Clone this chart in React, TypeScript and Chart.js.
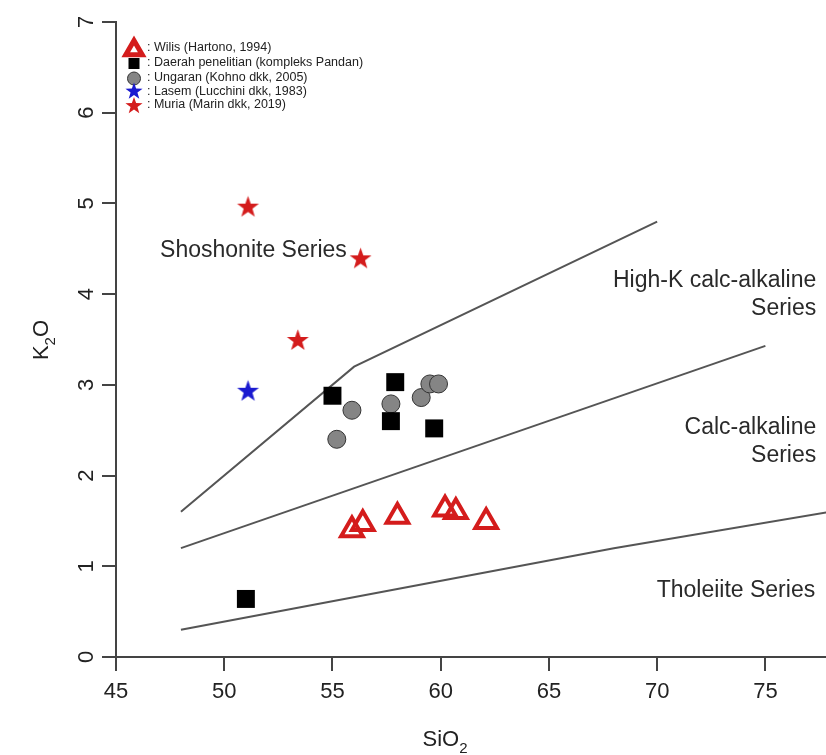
import React, { useEffect, useRef } from 'react';
import { Chart, registerables } from 'chart.js';

Chart.register(...registerables);

// ---- axis ticks ----
const xTickValues = [45, 50, 55, 60, 65, 70, 75];
const yTickValues = [0, 1, 2, 3, 4, 5, 6, 7];
const xMin = 45;
const xMax = 77.8;
const yMin = 0;
const yMax = 7;

// ---- data series (SiO2, K2O) ----
const wilisSiO2 = [55.9, 56.4, 58.0, 60.2, 60.7, 62.1];
const wilisK2O = [1.40, 1.47, 1.55, 1.63, 1.60, 1.49];

const daerahSiO2 = [51.0, 55.0, 57.9, 57.7, 59.7];
const daerahK2O = [0.64, 2.88, 3.03, 2.60, 2.52];

const ungaranSiO2 = [55.2, 55.9, 57.7, 59.1, 59.5, 59.9];
const ungaranK2O = [2.40, 2.72, 2.79, 2.86, 3.01, 3.01];

const lasemSiO2 = [51.1];
const lasemK2O = [2.94];

const muriaSiO2 = [51.1, 56.3, 53.4];
const muriaK2O = [4.97, 4.40, 3.50];

// ---- series boundary lines ----
const tholeiiteLineSiO2 = [48, 68, 78];
const tholeiiteLineK2O = [0.3, 1.2, 1.6];
const calcAlkLineSiO2 = [48, 75];
const calcAlkLineK2O = [1.2, 3.43];
const highKLineSiO2 = [48, 56, 70];
const highKLineK2O = [1.6, 3.2, 4.8];

// ---- legend labels ----
const legendLabels = [
  ': Wilis (Hartono, 1994)',
  ': Daerah penelitian (kompleks Pandan)',
  ': Ungaran (Kohno dkk, 2005)',
  ': Lasem (Lucchini dkk, 1983)',
  ': Muria (Marin dkk, 2019)',
];

// ---- field labels (anchor in data space) ----
const fieldLabels = ['Shoshonite Series', 'High-K calc-alkaline', 'Series', 'Calc-alkaline', 'Series', 'Tholeiite Series'];
const fieldLabelSiO2 = [51.35, 77.35, 77.35, 77.35, 77.35, 77.3];
const fieldLabelK2O = [4.48, 4.15, 3.84, 2.53, 2.22, 0.735];
const fieldLabelAlign = ['center', 'right', 'right', 'right', 'right', 'right'];

const zip = (xs: number[], ys: number[]) => xs.map((x, i) => ({ x, y: ys[i] }));

const RED = '#d41c1c';
const BLUE = '#1a1ad0';
const FONT = '"Liberation Sans", Arial, Helvetica, sans-serif';
const W = 826;
const H = 755;

function starPath(ctx: CanvasRenderingContext2D, cx: number, cy: number, R: number) {
  const r = R * 0.4;
  ctx.beginPath();
  for (let i = 0; i < 10; i++) {
    const rad = (Math.PI / 5) * i - Math.PI / 2;
    const rr = i % 2 === 0 ? R : r;
    const px = cx + Math.cos(rad) * rr;
    const py = cy + Math.sin(rad) * rr;
    if (i === 0) ctx.moveTo(px, py);
    else ctx.lineTo(px, py);
  }
  ctx.closePath();
}

function makeStar(color: string, R: number): HTMLCanvasElement {
  const size = Math.ceil(R * 2 + 4);
  const c = document.createElement('canvas');
  c.width = size;
  c.height = size;
  const ctx = c.getContext('2d')!;
  ctx.fillStyle = color;
  starPath(ctx, size / 2, size / 2 + R * 0.1, R);
  ctx.fill();
  return c;
}

const overlayPlugin = {
  id: 'overlay',
  afterDraw(chart: any) {
    const ctx: CanvasRenderingContext2D = chart.ctx;
    const xs = chart.scales.x;
    const ys = chart.scales.y;
    ctx.save();

    // x tick labels
    ctx.fillStyle = '#222';
    ctx.font = `22px ${FONT}`;
    ctx.textAlign = 'center';
    ctx.textBaseline = 'middle';
    xTickValues.forEach((v) => {
      ctx.fillText(String(v), xs.getPixelForValue(v), 692);
    });

    // y tick labels (rotated, R style)
    yTickValues.forEach((v) => {
      const py = ys.getPixelForValue(v);
      ctx.save();
      ctx.translate(87, py);
      ctx.rotate(-Math.PI / 2);
      ctx.fillText(String(v), 0, 0);
      ctx.restore();
    });

    // x title SiO2
    ctx.textAlign = 'left';
    ctx.textBaseline = 'alphabetic';
    ctx.font = `22px ${FONT}`;
    const cxTitle = xs.getPixelForValue(60.2);
    const wMain = ctx.measureText('SiO').width;
    ctx.font = `15px ${FONT}`;
    const wSub = ctx.measureText('2').width;
    const startX = cxTitle - (wMain + wSub) / 2;
    ctx.font = `22px ${FONT}`;
    ctx.fillText('SiO', startX, 746);
    ctx.font = `15px ${FONT}`;
    ctx.fillText('2', startX + wMain, 753);

    // y title K2O (rotated)
    ctx.save();
    ctx.translate(48, 340);
    ctx.rotate(-Math.PI / 2);
    ctx.font = `22px ${FONT}`;
    const wK = ctx.measureText('K').width;
    const wO = ctx.measureText('O').width;
    ctx.font = `15px ${FONT}`;
    const w2 = ctx.measureText('2').width;
    const sx = -(wK + w2 + wO) / 2;
    ctx.font = `22px ${FONT}`;
    ctx.fillText('K', sx, 0);
    ctx.font = `15px ${FONT}`;
    ctx.fillText('2', sx + wK, 7);
    ctx.font = `22px ${FONT}`;
    ctx.fillText('O', sx + wK + w2, 0);
    ctx.restore();

    // field labels
    ctx.fillStyle = '#2a2a2a';
    ctx.font = `23px ${FONT}`;
    ctx.textBaseline = 'middle';
    fieldLabels.forEach((t, i) => {
      ctx.textAlign = fieldLabelAlign[i] as CanvasTextAlign;
      ctx.fillText(t, xs.getPixelForValue(fieldLabelSiO2[i]), ys.getPixelForValue(fieldLabelK2O[i]));
    });

    // legend
    const lx = 134;
    const symY = [50, 63.5, 78.5, 91.5, 106];
    const txtY = [47.5, 63, 78, 91.5, 105];
    // triangle
    ctx.beginPath();
    const tr = 9.5;
    ctx.moveTo(lx, symY[0] - tr);
    ctx.lineTo(lx + tr * 0.866, symY[0] + tr / 2);
    ctx.lineTo(lx - tr * 0.866, symY[0] + tr / 2);
    ctx.closePath();
    ctx.strokeStyle = RED;
    ctx.lineWidth = 5;
    ctx.lineJoin = 'miter';
    ctx.stroke();
    // square
    ctx.fillStyle = '#000';
    ctx.fillRect(lx - 5.5, symY[1] - 5.5, 11, 11);
    // circle
    ctx.beginPath();
    ctx.arc(lx, symY[2], 6.5, 0, Math.PI * 2);
    ctx.fillStyle = '#858585';
    ctx.fill();
    ctx.strokeStyle = '#333';
    ctx.lineWidth = 1;
    ctx.stroke();
    // stars
    ctx.fillStyle = BLUE;
    starPath(ctx, lx, symY[3], 9);
    ctx.fill();
    ctx.fillStyle = RED;
    starPath(ctx, lx, symY[4], 9);
    ctx.fill();

    ctx.fillStyle = '#222';
    ctx.font = `12.5px ${FONT}`;
    ctx.textAlign = 'left';
    ctx.textBaseline = 'middle';
    legendLabels.forEach((t, i) => ctx.fillText(t, 147, txtY[i]));

    ctx.restore();
  },
};

export default function App() {
  const ref = useRef<HTMLCanvasElement | null>(null);

  useEffect(() => {
    if (!ref.current) return;
    const redStar = makeStar(RED, 11.5);
    const blueStar = makeStar(BLUE, 11.5);
    const lineStyle = {
      type: 'line' as const,
      showLine: true,
      borderColor: '#555',
      borderWidth: 2,
      pointRadius: 0,
      fill: false,
      order: 10,
      tension: 0,
    };
    const chart = new Chart(ref.current, {
      type: 'scatter',
      data: {
        datasets: [
          { ...lineStyle, label: 'Tholeiite boundary', data: zip(tholeiiteLineSiO2, tholeiiteLineK2O) },
          { ...lineStyle, label: 'Calc-alkaline boundary', data: zip(calcAlkLineSiO2, calcAlkLineK2O) },
          { ...lineStyle, label: 'High-K boundary', data: zip(highKLineSiO2, highKLineK2O) },
          {
            label: 'Ungaran (Kohno dkk, 2005)',
            data: zip(ungaranSiO2, ungaranK2O),
            pointStyle: 'circle',
            pointRadius: 9,
            backgroundColor: '#858585',
            borderColor: '#333',
            borderWidth: 1,
            order: 5,
          },
          {
            label: 'Daerah penelitian (kompleks Pandan)',
            data: zip(daerahSiO2, daerahK2O),
            pointStyle: 'rect',
            pointRadius: 12.7,
            backgroundColor: '#000',
            borderColor: '#000',
            borderWidth: 0,
            order: 4,
          },
          {
            label: 'Wilis (Hartono, 1994)',
            data: zip(wilisSiO2, wilisK2O),
            pointStyle: 'triangle',
            pointRadius: 12.5,
            backgroundColor: 'rgba(0,0,0,0)',
            borderColor: RED,
            borderWidth: 4,
            order: 3,
          },
          {
            label: 'Lasem (Lucchini dkk, 1983)',
            data: zip(lasemSiO2, lasemK2O),
            pointStyle: blueStar,
            order: 2,
          },
          {
            label: 'Muria (Marin dkk, 2019)',
            data: zip(muriaSiO2, muriaK2O),
            pointStyle: redStar,
            order: 1,
          },
        ] as any,
      },
      options: {
        animation: false,
        responsive: false,
        maintainAspectRatio: false,
        devicePixelRatio: 1,
        layout: { autoPadding: false, padding: { top: 22, left: 0, right: 0, bottom: 0 } },
        plugins: {
          legend: { display: false },
          tooltip: { enabled: false },
        },
        scales: {
          x: {
            type: 'linear',
            min: xMin,
            max: xMax,
            afterFit: (s: any) => {
              s.height = 98;
              s.paddingLeft = 0;
              s.paddingRight = 0;
            },
            afterBuildTicks: (s: any) => {
              s.ticks = xTickValues.map((v) => ({ value: v }));
            },
            ticks: {
              display: false,
              stepSize: 5,
              includeBounds: false,
              autoSkip: false,
            },
            grid: {
              drawOnChartArea: false,
              drawTicks: true,
              tickLength: 14,
              color: '#444',
              lineWidth: 2,
            },
            border: { display: true, color: '#444', width: 2 },
          },
          y: {
            type: 'linear',
            min: yMin,
            max: yMax,
            afterFit: (s: any) => {
              s.width = 116;
              s.paddingTop = 0;
              s.paddingBottom = 0;
            },
            afterBuildTicks: (s: any) => {
              s.ticks = yTickValues.map((v) => ({ value: v }));
            },
            ticks: {
              display: false,
              stepSize: 1,
            },
            grid: {
              drawOnChartArea: false,
              drawTicks: true,
              tickLength: 14,
              color: '#444',
              lineWidth: 2,
            },
            border: { display: true, color: '#444', width: 2 },
          },
        },
      },
      plugins: [overlayPlugin],
    });
    return () => chart.destroy();
  }, []);

  return (
    <div style={{ position: 'fixed', left: 0, top: 0, width: W, height: H, background: '#fff', overflow: 'hidden' }}>
      <canvas ref={ref} width={W} height={H} style={{ display: 'block', width: W, height: H }} />
    </div>
  );
}
